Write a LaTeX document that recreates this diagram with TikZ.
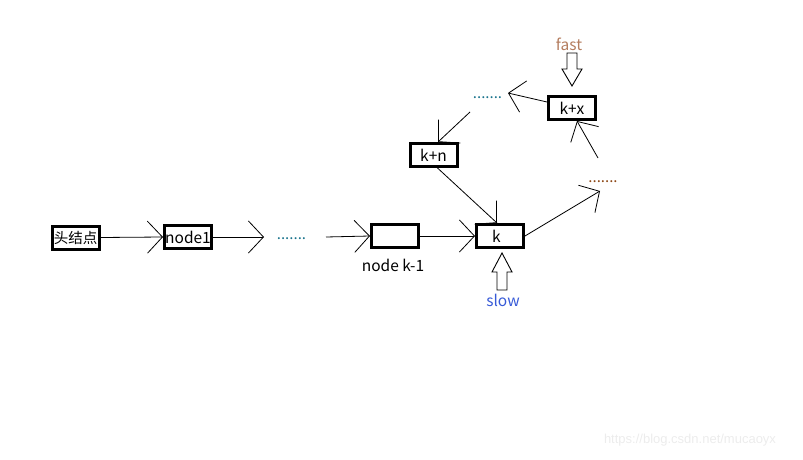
\documentclass[tikz,border=0pt]{standalone}
\usepackage{fontspec}
\setmainfont{Noto Sans CJK SC}
\newfontfamily\wmfont{Liberation Sans}
\usetikzlibrary{arrows.meta,calc}
\definecolor{dotteal}{RGB}{25,115,140}
\definecolor{dotbrown}{RGB}{140,70,20}
\definecolor{fastc}{RGB}{180,125,95}
\definecolor{slowc}{RGB}{55,90,215}
\definecolor{wmc}{RGB}{236,236,236}
\tikzset{
  x=1pt,y=1pt,
  box/.style={draw=black,line width=3pt,minimum width=47pt,minimum height=23pt,inner sep=0pt,font=\fontsize{15.5}{17}\selectfont},
  link/.style={line width=0.8pt,-{Straight Barb[length=15pt,width=32pt,line width=0.8pt]}},
  dots/.style={font=\fontsize{15}{17}\selectfont,anchor=base,inner sep=0pt},
  hollow/.style={draw=black,line width=0.9pt,fill=white},
  lbl/.style={font=\fontsize{15.5}{17}\selectfont,inner sep=0pt}
}
\begin{document}
\begin{tikzpicture}
\useasboundingbox (0,0) rectangle (803,459);
% boxes
\node[box,font=\fontsize{14.5}{16}\selectfont] (head) at (75.5,221.5) {头结点};
\node[box] (n1) at (188,222) {node1};
\node[box] (nk1) at (395,223) {};
\node[box] (k) at (500,223) {\makebox[44pt][l]{\hspace{14pt}k}};
\node[box] (kn) at (433.5,304) {k+n};
\node[box] (kx) at (572,351) {k+x};
% dots
\node[dots,text=dotteal] (d1) at (291.5,220) {.......};
\node[dots,text=dotteal] (d2) at (487.5,360) {.......};
\node[dots,text=dotbrown] (d3) at (603,277) {.......};
% free ends
\coordinate (c1) at (264,222);
\coordinate (c2) at (326,222);
\coordinate (e1) at (600,268);
\coordinate (e2) at (598,301);
\coordinate (f1) at (508,366);
\coordinate (f2) at (470,347);
% connectors
\draw[link] (head.east) -- (n1.west);
\draw[link] (n1.east) -- (c1);
\draw[link] (c2) -- (nk1.west);
\draw[link] (nk1.east) -- (k.west);
\draw[link] ([xshift=4pt]kn.south) -- ([xshift=-3pt]k.north);
\draw[link] (k.east) -- (e1);
\draw[link] (e2) -- ([xshift=5pt]kx.south);
\draw[link] ([yshift=6pt]kx.west) -- (f1);
\draw[link] (f2) -- ([xshift=4.5pt]kn.north);
% labels
\node[lbl] (lk1) at (393,194) {node k-1};
\node[lbl,text=slowc] (slow) at (503,159) {slow};
\node[lbl,text=fastc] (fast) at (569,415) {fast};
% hollow arrows
\draw[hollow] (502,206) -- (512,187) -- (507,187) -- (507,169) -- (497,169) -- (497,187) -- (492,187) -- cycle;
\draw[hollow] (572,373) -- (582,390) -- (577,390) -- (577,406) -- (567,406) -- (567,390) -- (562,390) -- cycle;
% watermark
\node[text=wmc,font=\wmfont\fontsize{13}{15}\selectfont,inner sep=0pt] (wm) at (690,19) {https://blog.csdn.net/mucaoyx};
\end{tikzpicture}
\end{document}
